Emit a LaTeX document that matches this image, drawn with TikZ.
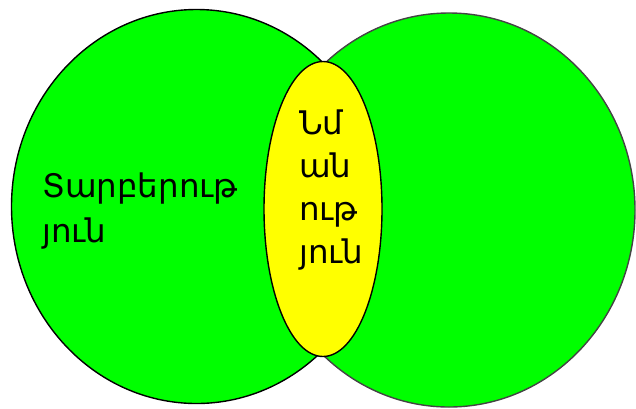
\documentclass[tikz,border=0pt]{standalone}
\usepackage{fontspec}
\setmainfont{DejaVu Sans}
\usetikzlibrary{shapes.geometric}
\definecolor{vgreen}{HTML}{00FF00}
\definecolor{vyellow}{HTML}{FFFF00}
\definecolor{rimgray}{HTML}{444444}
\begin{document}
\begin{tikzpicture}[x=1pt,y=-1pt,
  setshape/.style={ellipse, fill=vgreen, line width=1.4pt, inner sep=0pt, outer sep=0pt},
  label/.style={align=left, inner sep=0pt, anchor=base west}]
\useasboundingbox (0,0) rectangle (636,408);
\node[setshape, draw=rimgray, minimum width=372pt, minimum height=394pt] (right) at (449,210) {};
\node[setshape, draw=black, minimum width=370pt, minimum height=394pt] (left) at (196.5,206.5) {};
\node[ellipse, fill=vyellow, draw=black, line width=1.4pt, inner sep=0pt, minimum width=118pt, minimum height=295pt] (common) at (323,209) {};
\node[label, font=\fontsize{32.5}{45}\selectfont] (difftext) at (42,242) {Տարբերութ\\յուն};
\node[label, font=\fontsize{32.5}{43}\selectfont] (sametext) at (299,263) {Նմ\\ան\\ութ\\յուն};
\end{tikzpicture}
\end{document}
